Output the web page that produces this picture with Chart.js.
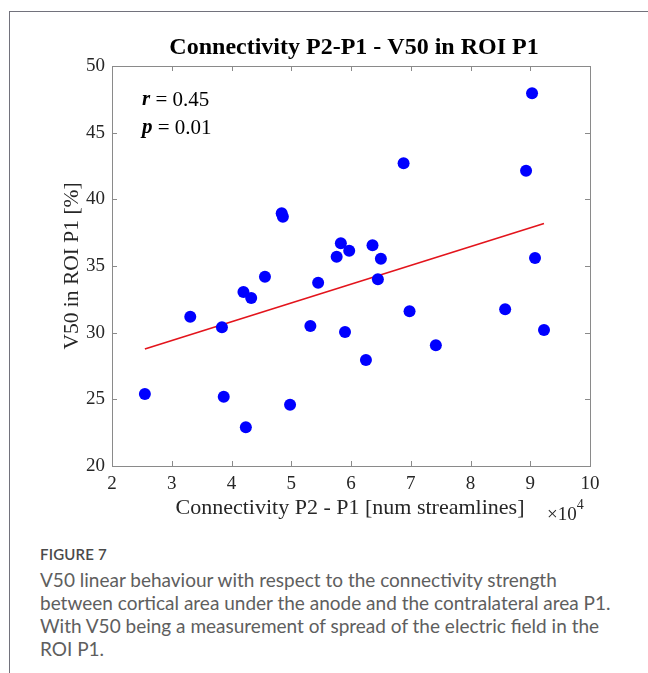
<!DOCTYPE html>
<html>
<head>
<meta charset="utf-8">
<script src="https://cdn.jsdelivr.net/npm/chart.js@4"></script>
<style>
  body { margin:0; background:#fff; }
  #wrap { position:relative; width:648px; height:673px; overflow:hidden; background:#fff; }
  .card-line { position:absolute; left:9px; top:11px; right:-2px; bottom:-2px;
    border-left:1px solid #72727c; border-top:1px solid #72727c; }
  .chart-box { position:absolute; left:0; top:0; width:648px; height:540px; }
  .fig-label { position:absolute; left:40px; top:545px; line-height:20px;
    font:600 15px Lato, "Open Sans", sans-serif; color:#4a4a4a; letter-spacing:0.2px; }
  .fig-text { position:absolute; left:40px; top:568px; margin:0; line-height:24px;
    font:19px Lato, "Open Sans", sans-serif; color:#5e5e5e; white-space:nowrap; }
</style>
</head>
<body>
<div id="wrap">
  <div class="card-line"></div>
  <div class="chart-box"><canvas id="chart" width="648" height="540"></canvas></div>
  <div class="fig-label">FIGURE 7</div>
  <p class="fig-text">V50 linear behaviour with respect to the connectivity strength<br>between cortical area under the anode and the contralateral area P1.<br>With V50 being a measurement of spread of the electric field in the<br>ROI P1.</p>
</div>

<script>
// connectivity (x 10^4 streamlines) and V50 (%)
const connX = [2.55, 3.31, 3.84, 3.87, 4.20, 4.24, 4.33, 4.56, 4.84, 4.86, 4.98, 5.32, 5.45, 5.76, 5.83,
               5.90, 5.97, 6.25, 6.36, 6.45, 6.50, 6.88, 6.98, 7.42, 8.58, 8.93, 9.03, 9.08, 9.23];
const v50   = [25.4, 31.2, 30.4, 25.2, 33.05, 22.9, 32.6, 34.2, 38.95, 38.7, 24.6, 30.5, 33.75, 35.7, 36.7,
               30.05, 36.15, 27.95, 36.55, 34.0, 35.55, 42.7, 31.6, 29.05, 31.75, 42.15, 47.95, 35.6, 30.2];
// regression line end points
const fitX = [2.55, 9.23];
const fitY = [28.78, 38.18];

const xRange = [2, 10];
const yRange = [20, 50];

const SERIF = '"Liberation Serif", "Times New Roman", serif';
const TXT = '#262626';

const axesDeco = {
  id: 'axesDeco',
  beforeDatasetsDraw(chart) {
    const { ctx, chartArea: a, scales: { x, y } } = chart;
    ctx.save();
    ctx.strokeStyle = '#8a8a8a';
    ctx.lineWidth = 1;
    ctx.strokeRect(a.left + 0.5, a.top + 0.5, a.right - a.left, a.bottom - a.top);
    // inward ticks on all sides
    const len = 5;
    ctx.beginPath();
    x.ticks.forEach(t => {
      if (t.value === x.min || t.value === x.max) return;
      const px = Math.round(x.getPixelForValue(t.value)) + 0.5;
      ctx.moveTo(px, a.bottom); ctx.lineTo(px, a.bottom - len);
      ctx.moveTo(px, a.top); ctx.lineTo(px, a.top + len);
    });
    y.ticks.forEach(t => {
      if (t.value === y.min || t.value === y.max) return;
      const py = Math.round(y.getPixelForValue(t.value)) + 0.5;
      ctx.moveTo(a.left, py); ctx.lineTo(a.left + len, py);
      ctx.moveTo(a.right, py); ctx.lineTo(a.right - len, py);
    });
    ctx.stroke();
    ctx.restore();
  },
  afterDraw(chart) {
    const { ctx, chartArea: a } = chart;
    const cx = (a.left + a.right) / 2;
    ctx.save();
    ctx.fillStyle = '#000';
    ctx.textBaseline = 'middle';
    ctx.textAlign = 'center';
    ctx.font = 'bold 24px ' + SERIF;
    ctx.fillText('Connectivity P2-P1 - V50 in ROI P1', cx + 3, 48);

    ctx.fillStyle = TXT;
    ctx.font = '22px ' + SERIF;
    ctx.fillText('Connectivity P2 - P1 [num streamlines]', cx - 1, 508);

    // x10^4 multiplier
    ctx.textAlign = 'left';
    ctx.font = '19px ' + SERIF;
    ctx.fillText('\u00d710', 547, 515);
    const w = ctx.measureText('\u00d710').width;
    ctx.font = '14px ' + SERIF;
    ctx.fillText('4', 547 + w, 505);

    // y title
    ctx.save();
    ctx.translate(72, 266);
    ctx.rotate(-Math.PI / 2);
    ctx.textAlign = 'center';
    ctx.font = '21.5px ' + SERIF;
    ctx.fillText('V50 in ROI P1 [%]', 0, 0);
    ctx.restore();

    // r / p annotation
    const stat = (sym, rest, px, py) => {
      ctx.textAlign = 'left';
      ctx.font = 'italic bold 21px ' + SERIF;
      ctx.fillText(sym, px, py);
      const sw = ctx.measureText(sym).width;
      ctx.font = '21px ' + SERIF;
      ctx.fillText(rest, px + sw, py);
    };
    ctx.fillStyle = '#000';
    stat('r', ' = 0.45', 142, 100);
    stat('p', ' = 0.01', 142, 128);
    ctx.restore();
  }
};

new Chart(document.getElementById('chart'), {
  type: 'scatter',
  data: {
    datasets: [
      {
        label: 'V50',
        data: connX.map((v, i) => ({ x: v, y: v50[i] })),
        backgroundColor: '#0000ff',
        borderWidth: 0,
        pointRadius: 6,
        order: 1
      },
      {
        label: 'fit',
        type: 'line',
        data: fitX.map((v, i) => ({ x: v, y: fitY[i] })),
        borderColor: '#e3141c',
        borderWidth: 1.6,
        pointRadius: 0,
        fill: false,
        order: 2
      }
    ]
  },
  options: {
    responsive: false,
    animation: false,
    layout: { padding: { left: 0, top: 66, right: 58, bottom: 0 } },
    plugins: { legend: { display: false }, tooltip: { enabled: false } },
    scales: {
      x: {
        type: 'linear', min: xRange[0], max: xRange[1],
        ticks: { stepSize: 1, color: TXT, padding: 7, font: { family: SERIF, size: 19 } },
        grid: { display: false, drawTicks: false },
        border: { display: false },
        afterFit(s) { s.height = 74; }
      },
      y: {
        min: yRange[0], max: yRange[1],
        ticks: { stepSize: 5, color: TXT, padding: 7, font: { family: SERIF, size: 19 } },
        grid: { display: false, drawTicks: false },
        border: { display: false },
        afterFit(s) { s.width = 112; }
      }
    }
  },
  plugins: [axesDeco]
});
</script>
</body>
</html>
